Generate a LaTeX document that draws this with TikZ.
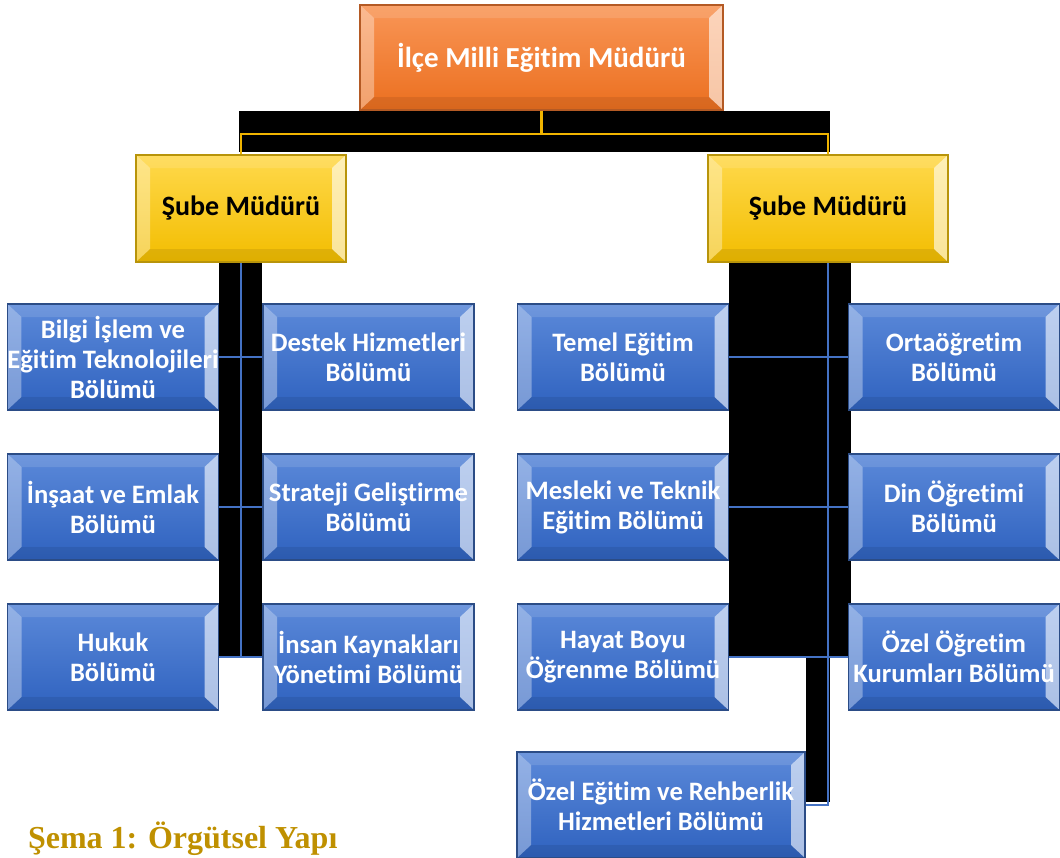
\documentclass[tikz,border=0pt]{standalone}
\usepackage{fontspec}
\setmainfont{Carlito}[Ligatures=NoCommon]
\newfontfamily\capfont{Liberation Serif}
\usetikzlibrary{backgrounds}

\definecolor{deptTop}{HTML}{5B89D9}
\definecolor{deptBot}{HTML}{2F62BF}
\definecolor{deptLine}{HTML}{2B4C86}
\definecolor{subeTop}{HTML}{FFD94C}
\definecolor{subeBot}{HTML}{F2BD00}
\definecolor{subeLine}{HTML}{B8940A}
\definecolor{headTop}{HTML}{F99657}
\definecolor{headBot}{HTML}{EB6F1F}
\definecolor{headLine}{HTML}{B45A24}
\definecolor{linkBlue}{HTML}{4472C4}
\definecolor{linkGold}{HTML}{F0B400}
\definecolor{capGold}{HTML}{BF9000}

\tikzset{
  bevel/.style={path picture={
      % left and right light edges, top lighter, bottom darker
      \fill[white,opacity=.35] (path picture bounding box.north west)
        -- ([shift={(7pt,-6.5pt)}]path picture bounding box.north west)
        -- ([shift={(7pt,6.5pt)}]path picture bounding box.south west)
        -- (path picture bounding box.south west) -- cycle;
      \fill[white,opacity=.6] (path picture bounding box.north east)
        -- ([shift={(-7pt,-6.5pt)}]path picture bounding box.north east)
        -- ([shift={(-7pt,6.5pt)}]path picture bounding box.south east)
        -- (path picture bounding box.south east) -- cycle;
      \fill[white,opacity=.12] (path picture bounding box.north west)
        -- ([shift={(7pt,-6.5pt)}]path picture bounding box.north west)
        -- ([shift={(-7pt,-6.5pt)}]path picture bounding box.north east)
        -- (path picture bounding box.north east) -- cycle;
      \fill[black,opacity=.08] (path picture bounding box.south west)
        -- ([shift={(7pt,6.5pt)}]path picture bounding box.south west)
        -- ([shift={(-7pt,6.5pt)}]path picture bounding box.south east)
        -- (path picture bounding box.south east) -- cycle;
  }},
  box/.style={rectangle, draw, line width=.6pt, inner sep=0pt, align=center,
    text=white, font=\bfseries\fontsize{13.3}{15}\selectfont, bevel},
  dept/.style={box, minimum width=105.5pt, minimum height=53pt,
    top color=deptTop, bottom color=deptBot, draw=deptLine},
  sube/.style={box, minimum height=53.5pt, text=black,
    font=\bfseries\fontsize{14}{16}\selectfont,
    top color=subeTop, bottom color=subeBot, draw=subeLine},
  head/.style={box, minimum width=181.5pt, minimum height=52.5pt,
    font=\bfseries\fontsize{14.5}{17}\selectfont,
    top color=headTop, bottom color=headBot, draw=headLine},
  bluelink/.style={draw=linkBlue, line width=1.1pt},
  goldlink/.style={draw=linkGold, line width=1.1pt},
  caption/.style={text=capGold, font=\capfont\bfseries\fontsize{16}{19}\selectfont}
}

\begin{document}
\begin{tikzpicture}[x=0.5pt, y=-0.5pt, node distance=75pt]
  \useasboundingbox (0,0) rectangle (1060,857);

  \node[head] (mudur) at (541.5,57.5) {İlçe Milli Eğitim Müdürü};
  \node[sube, minimum width=105pt] (sube1) at (241,208.5) {Şube Müdürü};
  \node[sube, minimum width=120pt] (sube2) at (828,208.5) {Şube Müdürü};

  \node[dept] (bilgi) at (113,357) {Bilgi İşlem ve\\Eğitim Teknolojileri\\Bölümü};
  \node[dept] (insaat) [below of=bilgi] {İnşaat ve Emlak\\Bölümü};
  \node[dept] (hukuk) [below of=insaat] {Hukuk\\Bölümü};
  \node[dept] (destek) [right of=bilgi, node distance=127.75pt] {Destek Hizmetleri\\Bölümü};
  \node[dept] (strateji) [below of=destek] {Strateji Geliştirme\\Bölümü};
  \node[dept] (insan) [below of=strateji] {İnsan Kaynakları\\Yönetimi Bölümü};
  \node[dept] (temel) [right of=destek, node distance=127.25pt] {Temel Eğitim\\Bölümü};
  \node[dept] (mesleki) [below of=temel] {Mesleki ve Teknik\\Eğitim Bölümü};
  \node[dept] (hayat) [below of=mesleki] {Hayat Boyu\\Öğrenme Bölümü};
  \node[dept] (orta) [right of=temel, node distance=165.5pt] {Ortaöğretim\\Bölümü};
  \node[dept] (din) [below of=orta] {Din Öğretimi\\Bölümü};
  \node[dept] (ozelogr) [below of=din] {Özel Öğretim\\Kurumları Bölümü};
  \node[dept, minimum width=144pt] (ozelegitim) at (661,805) {Özel Eğitim ve Rehberlik\\Hizmetleri Bölümü};

  \node[caption, anchor=base west] (cap) at (21,848) {Şema 1: Örgütsel Yapı};

  \begin{scope}[on background layer]
    \fill[black] ([xshift=-1pt]sube1.north |- mudur.south) rectangle ([shift={(1pt,1pt)}]sube2.north);
    \fill[black] (bilgi.east |- sube1.south) rectangle (hukuk.east -| destek.west);
    \fill[black] (temel.east |- sube2.south) rectangle ([xshift=1.5pt]ozelogr.west);
    \fill[black] (ozelegitim.east |- ozelogr.west) rectangle ([shift={(1pt,1.5pt)}]ozelegitim.east -| sube2.south);
  \end{scope}

  \draw[goldlink] (mudur.south) -- ++(0,23) -| (sube1.north);
  \draw[goldlink] (mudur.south) -- ++(0,23) -| (sube2.north);
  \draw[bluelink] (sube1.south) |- (bilgi.east)
    (sube1.south) |- (insaat.east)
    (sube1.south) |- (hukuk.east)
    (sube1.south) |- (destek.west)
    (sube1.south) |- (strateji.west)
    (sube1.south) |- (insan.west);
  \draw[bluelink] (sube2.south) |- (temel.east)
    (sube2.south) |- (mesleki.east)
    (sube2.south) |- (hayat.east)
    (sube2.south) |- (ozelegitim.east)
    (sube2.south) |- (orta.west)
    (sube2.south) |- (din.west)
    (sube2.south) |- (ozelogr.west);
\end{tikzpicture}
\end{document}
